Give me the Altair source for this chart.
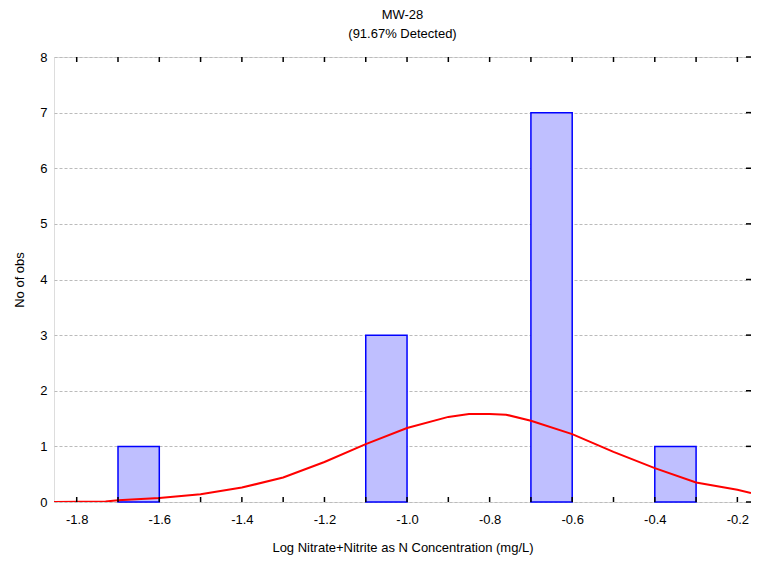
import altair as alt
import pandas as pd

# Histogram bins (log concentration) and counts
bin_start = [-1.7, -1.1, -0.7, -0.4]
bin_end = [-1.6, -1.0, -0.6, -0.3]
counts = [1, 3, 7, 1]

# Fitted normal curve
curve_x = [-1.855, -1.73, -1.70, -1.60, -1.50, -1.40, -1.30, -1.20, -1.10, -1.00,
           -0.90, -0.85, -0.80, -0.76, -0.70, -0.60, -0.50, -0.40, -0.30, -0.20, -0.167]
curve_y = [0.0, 0.01, 0.03, 0.07, 0.14, 0.26, 0.44, 0.72, 1.04, 1.33,
           1.53, 1.58, 1.58, 1.57, 1.46, 1.22, 0.90, 0.61, 0.35, 0.22, 0.16]

x_ticks = [-1.8, -1.7, -1.6, -1.5, -1.4, -1.3, -1.2, -1.1, -1.0, -0.9, -0.8,
           -0.7, -0.6, -0.5, -0.4, -0.3, -0.2]
y_ticks = [0, 1, 2, 3, 4, 5, 6, 7, 8]

x_domain = [-1.855, -0.167]
y_domain = [0, 8]

W, H = 697, 445
FONT = "Liberation Sans"

bars_df = pd.DataFrame({"start": bin_start, "end": bin_end, "count": counts})
curve_df = pd.DataFrame({"x": curve_x, "y": curve_y})
xt_df = pd.DataFrame({"v": x_ticks})
yt_df = pd.DataFrame({"v": y_ticks})

xscale = alt.Scale(domain=x_domain, nice=False, zero=False)
yscale = alt.Scale(domain=y_domain, nice=False)

label_expr = ("abs(round(datum.value*10)) % 2 == 0 ? "
              "(datum.value < 0 ? '-' : '') + format(abs(datum.value), '.1f') : ''")

bars = alt.Chart(bars_df).mark_rect(
    fill="#bfbfff", stroke="#0000ff", strokeWidth=1.5
).encode(
    x=alt.X("start:Q", scale=xscale,
            axis=alt.Axis(values=x_ticks, labelExpr=label_expr,
                          title="Log Nitrate+Nitrite as N Concentration (mg/L)",
                          grid=False, domain=False, ticks=False, labelPadding=11,
                          labelFontSize=13, labelFont=FONT, labelColor="black",
                          titleFont=FONT, titleFontSize=13, titleFontWeight="normal",
                          titleColor="black", titlePadding=15)),
    x2="end:Q",
    y=alt.Y("count:Q", scale=yscale,
            axis=alt.Axis(values=y_ticks, format="d", title="No of obs", grid=True, gridDash=[3, 2],
                          gridColor="#bbbbbb", gridWidth=1, domain=False, ticks=False,
                          labelPadding=7, labelFontSize=13, labelFont=FONT, labelColor="black",
                          titleFont=FONT, titleFontSize=13, titleFontWeight="normal",
                          titleColor="black", titlePadding=13)),
    y2=alt.datum(0),
)

curve = alt.Chart(curve_df).mark_line(color="#ff0000", strokeWidth=2, clip=True).encode(
    x=alt.X("x:Q", scale=xscale),
    y=alt.Y("y:Q", scale=yscale),
)

bottom_ticks = alt.Chart(xt_df).mark_rule(color="black", strokeWidth=1.5).encode(
    x=alt.X("v:Q", scale=xscale), y=alt.value(H), y2=alt.value(H - 5))
top_ticks = alt.Chart(xt_df).mark_rule(color="black", strokeWidth=1.5).encode(
    x=alt.X("v:Q", scale=xscale), y=alt.value(0), y2=alt.value(5))
right_ticks = alt.Chart(yt_df).mark_rule(color="black", strokeWidth=1.5).encode(
    y=alt.Y("v:Q", scale=yscale), x=alt.value(W), x2=alt.value(W - 5))

chart = alt.layer(bars, curve, bottom_ticks, top_ticks, right_ticks).properties(
    width=W, height=H,
    title=alt.TitleParams(text="MW-28", subtitle="(91.67% Detected)",
                          font=FONT, fontSize=13, fontWeight="normal", color="black",
                          subtitleFont=FONT, subtitleFontSize=13, subtitleColor="black",
                          subtitlePadding=6, anchor="middle", offset=10),
    autosize=alt.AutoSizeParams(type="none"),
    padding={"left": 46, "top": 49, "right": 0, "bottom": 53},
).configure_view(stroke="black", strokeWidth=2).configure_axisX(grid=False).configure(background="white")

chart.save("out.html", embed_options={"renderer": "svg", "actions": False})
